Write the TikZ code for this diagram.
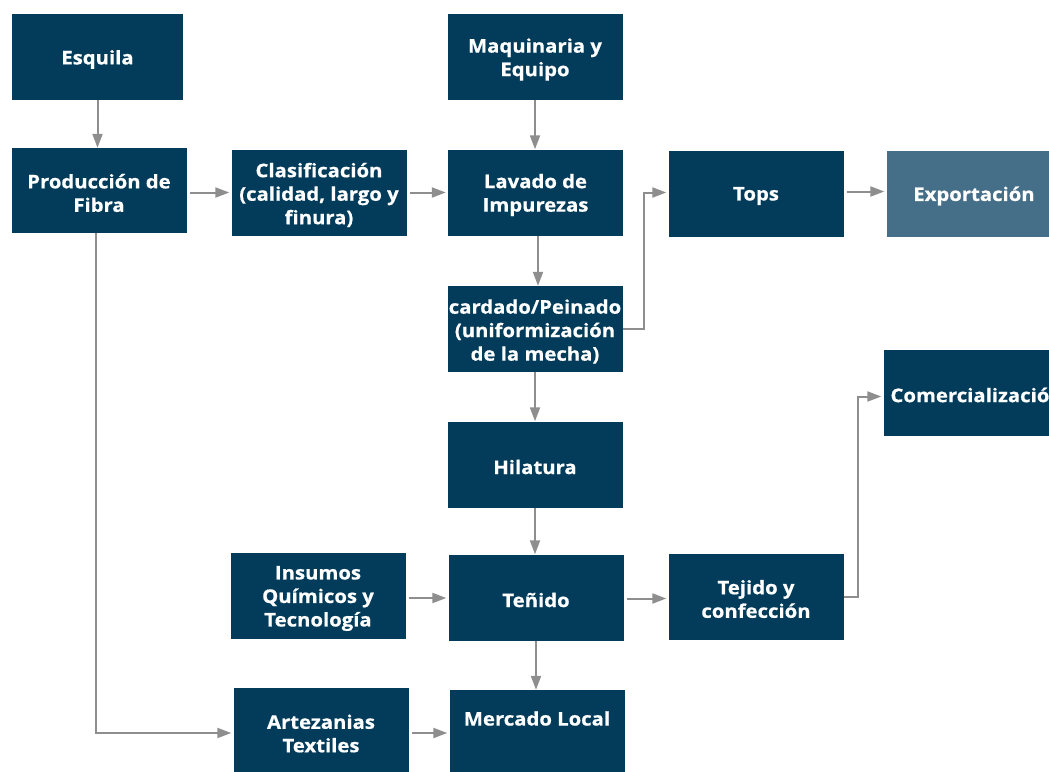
\documentclass[tikz,border=0pt]{standalone}
\usepackage{fontspec}
\setmainfont{Open Sans}[FakeStretch=1.08, BoldFeatures={FakeBold=0.6}]
\usetikzlibrary{arrows.meta}
\definecolor{boxblue}{HTML}{023C5A}
\definecolor{lightblue}{HTML}{456E88}
\definecolor{arrgray}{HTML}{8E8E8E}
\tikzset{
  box/.style={rectangle, fill=boxblue, draw=none, inner sep=0pt,
    minimum width=175pt, minimum height=86pt},
  lbox/.style={box, fill=lightblue},
  txt/.style={text=white, align=center, inner sep=0pt,
    font=\bfseries\fontsize{18.8}{23.5}\selectfont},
  arr/.style={draw=arrgray, line width=2pt, -{Triangle[length=14pt,width=10pt]},
    shorten <=3pt, shorten >=2pt},
}
% #1 style, #2 name, #3 position, #4 text
\newcommand{\bx}[4]{%
  \node[#1] (#2) at (#3) {};
  \node[txt] (#2t) at ([yshift=-2.5pt]#2.center) {#4};
}
\begin{document}
\begin{tikzpicture}[x=1pt,y=-1pt]
\useasboundingbox (0,0) rectangle (1049,771);
\bx{box, minimum width=171pt}{esq}{97.5,57}{Esquila}
\bx{box}{maq}{535,57}{Maquinaria y\\Equipo}
\bx{box, minimum height=85pt}{prod}{99,190.5}{Producción de\\Fibra}
\bx{box}{clas}{319,192.5}{Clasificación\\(calidad, largo y\\finura)}
\bx{box}{lav}{535.5,192.5}{Lavado de\\Impurezas}
\bx{box}{tops}{756,193.5}{Tops}
\bx{lbox}{exp}{974,193.5}{Exportación}
\bx{box}{card}{535,329}{cardado/Peinado\\(uniformización\\de la mecha)}
\node[box] (com) at (971,392.5) {};
\node[txt, anchor=west] (comt) at ([xshift=7pt,yshift=-2.5pt]com.west) {Comercialización};
\bx{box}{hil}{535,464.5}{Hilatura}
\bx{box}{ins}{318,596}{Insumos\\Químicos y\\Tecnología}
\bx{box}{ten}{536,597.5}{Teñido}
\bx{box}{tej}{756,596.5}{Tejido y\\confección}
\bx{box}{art}{321,731}{Artezanias\\Textiles}
\node[box] (mer) at (537,733) {};
\node[txt] (mert) at (537,718.5) {Mercado Local};

\draw[arr, shorten <=0pt, shorten >=0pt] (esq.south) -- (esq.south |- prod.north);
\draw[arr, shorten <=0pt, shorten >=0pt] (maq.south) -- (maq.south |- lav.north);
\draw[arr] (prod.east |- clas.west) -- (clas.west);
\draw[arr] (clas.east) -- (lav.west);
\draw[arr, shorten <=0pt, shorten >=0pt] ([xshift=2.5pt]lav.south) -- ([xshift=3pt]card.north);
\draw[arr, shorten <=0pt] (card.east) -- ++(21,0) |- ([yshift=1pt]tops.west);
\draw[arr] ([yshift=2pt]tops.east) -- ([yshift=2pt]exp.west);
\draw[arr, shorten <=0pt, shorten >=0pt] (card.south) -- (hil.north);
\draw[arr, shorten <=0pt, shorten >=0pt] (hil.south) -- (hil.south |- ten.north);
\draw[arr] ([yshift=-2pt]ins.east) -- ([yshift=-2pt]ins.east -| ten.west);
\draw[arr] ([yshift=-2pt]tej.west -| ten.east) -- ([yshift=-2pt]tej.west);
\draw[arr, shorten <=0pt] (tej.east) -- ++(14,0) |- ([yshift=-4pt]com.west);
\draw[arr, shorten <=0pt, shorten >=0pt] (ten.south) -- (ten.south |- mer.north);
\draw[arr] ([yshift=-2pt]art.east) -- ([yshift=-2pt]art.east -| mer.west);
\draw[arr, shorten <=0pt] ([xshift=-3pt]prod.south) |- ([yshift=-2pt]art.west);
\end{tikzpicture}
\end{document}
